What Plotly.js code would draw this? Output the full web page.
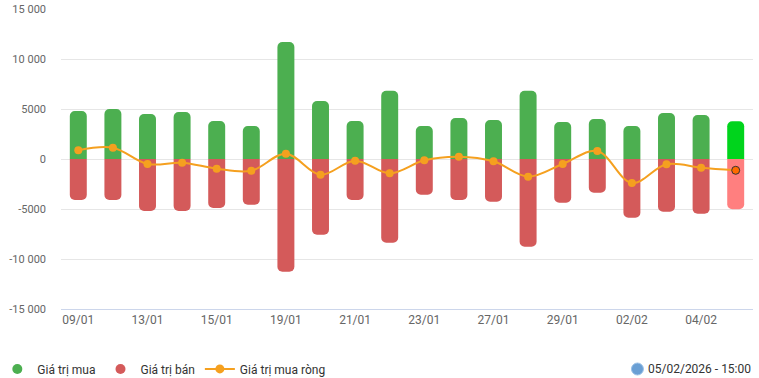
<!DOCTYPE html>
<html>
<head>
<meta charset="utf-8">
<script src="https://cdn.plot.ly/plotly-3.0.1.min.js"></script>
<style>html,body{margin:0;padding:0;background:#fff;}#chart{width:759px;height:378px;}</style>
</head>
<body>
<div id="chart"></div>
<script>
const dates = ["09/01","12/01","13/01","14/01","15/01","16/01","19/01","20/01","21/01","22/01","23/01","26/01","27/01","28/01","29/01","30/01","02/02","03/02","04/02","05/02"];
const buyValues = [4800,5000,4500,4700,3800,3300,11700,5800,3800,6830,3300,4100,3900,6830,3700,4000,3300,4600,4400,3770];
const sellValues = [-4100,-4100,-5200,-5200,-4900,-4570,-11270,-7570,-4100,-8370,-3570,-4100,-4270,-8770,-4370,-3370,-5870,-5270,-5470,-5030];
const netValues = [870,1130,-500,-370,-970,-1170,530,-1570,-170,-1430,-130,230,-230,-1770,-500,800,-2400,-530,-870,-1130];
const xTickLabels = ["09/01","13/01","15/01","19/01","21/01","23/01","27/01","29/01","02/02","04/02"];
const yTickVals = [-15000,-10000,-5000,0,5000,10000,15000];
const yTickText = ["-15 000","-10 000","-5000","0","5000","10 000","15 000"];
const seriesNames = ["Giá trị mua","Giá trị bán","Giá trị mua ròng"];
const stampText = "05/02/2026 - 15:00";

const last = dates.length - 1;
const buyColors = dates.map((d,i)=> i===last ? "#00d41c" : "#4caf50");
const sellColors = dates.map((d,i)=> i===last ? "#ff7f7f" : "#d45a5a");
const netFill = dates.map((d,i)=> i===last ? "#ff6a00" : "#f5a01f");
const netLineC = dates.map((d,i)=> i===last ? "#333333" : "#f5a01f");
const netLineW = dates.map((d,i)=> i===last ? 1 : 0);

const traces = [
  {type:"bar", x:dates, y:buyValues, name:seriesNames[0], marker:{color:buyColors, cornerradius:5}, showlegend:false, hoverinfo:"y"},
  {type:"bar", x:dates, y:sellValues, name:seriesNames[1], marker:{color:sellColors, cornerradius:5}, showlegend:false, hoverinfo:"y"},
  {type:"scatter", mode:"lines+markers", x:dates, y:netValues, name:seriesNames[2], line:{color:"#f5a01f", width:2, shape:"spline", smoothing:1},
   marker:{size:8, color:netFill, line:{color:netLineC, width:netLineW}}, showlegend:false},
  {type:"scatter", mode:"markers", x:[null], y:[null], name:seriesNames[0], marker:{size:10, color:"#4caf50"}},
  {type:"scatter", mode:"markers", x:[null], y:[null], name:seriesNames[1], marker:{size:10, color:"#d45a5a"}},
  {type:"scatter", mode:"lines+markers", x:[null], y:[null], name:seriesNames[2], line:{color:"#f5a01f", width:2}, marker:{size:9, color:"#f5a01f"}}
];

const layout = {
  width:759, height:378,
  margin:{l:61, r:6, t:9, b:69, autoexpand:false},
  paper_bgcolor:"#fff", plot_bgcolor:"#fff",
  font:{family:"Roboto, Arial, sans-serif", size:11, color:"#666"},
  barmode:"relative", bargap:0.51,
  xaxis:{type:"category", range:[-0.5, dates.length-0.5], tickmode:"array", tickvals:xTickLabels, ticktext:xTickLabels, automargin:false,
         showgrid:false, showline:true, linecolor:"#ccd6eb", linewidth:1, ticks:"", fixedrange:true,
         tickfont:{size:12, color:"#666"}},
  yaxis:{range:[-15000,15000], tickmode:"array", tickvals:yTickVals, ticktext:yTickText, automargin:false,
         showgrid:true, gridcolor:"#e6e6e6", gridwidth:1, zeroline:false, showline:false, ticks:"",
         ticklabelstandoff:14, tickfont:{size:11, color:"#666"}},
  showlegend:true,
  legend:{orientation:"h", xref:"paper", yref:"container", x:-0.092, xanchor:"left", y:0.024, yanchor:"middle",
          font:{size:12, color:"#333", family:"Roboto, Arial, sans-serif"}, itemwidth:30, traceorder:"normal"},
  annotations:[{xref:"paper", yref:"paper", x:1, xanchor:"right", y:-0.2, yanchor:"middle", showarrow:false,
                text:stampText, font:{size:12, color:"#333"}}],
  shapes:[{type:"circle", xref:"paper", yref:"paper", xsizemode:"pixel", ysizemode:"pixel", xanchor:0.833, yanchor:-0.2,
           x0:-6, x1:6, y0:-6, y1:6, fillcolor:"#6a9fd4", line:{color:"#9cc2e8", width:1}}]
};

Plotly.newPlot("chart", traces, layout, {displayModeBar:false, staticPlot:true});
</script>
</body>
</html>
